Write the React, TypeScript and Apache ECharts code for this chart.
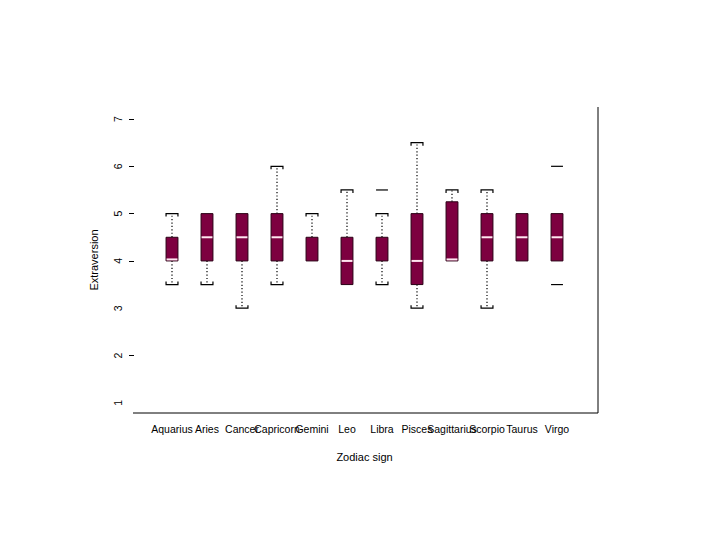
import React, { useEffect, useRef } from "react";
import * as echarts from "echarts";

const categories = ["Aquarius", "Aries", "Cancer", "Capricorn", "Gemini", "Leo", "Libra", "Pisces", "Sagittarius", "Scorpio", "Taurus", "Virgo"];
const lowerWhisker = [3.5, 3.5, 3.0, 3.5, 4.0, 3.5, 3.5, 3.0, 4.0, 3.0, 4.0, 4.0];
const q1 = [4.0, 4.0, 4.0, 4.0, 4.0, 3.5, 4.0, 3.5, 4.0, 4.0, 4.0, 4.0];
const medians = [4.0, 4.5, 4.5, 4.5, 4.5, 4.0, 4.5, 4.0, 4.0, 4.5, 4.5, 4.5];
const q3 = [4.5, 5.0, 5.0, 5.0, 4.5, 4.5, 4.5, 5.0, 5.25, 5.0, 5.0, 5.0];
const upperWhisker = [5.0, 5.0, 5.0, 6.0, 5.0, 5.5, 5.0, 6.5, 5.5, 5.5, 5.0, 5.0];
const outlierCats = ["Libra", "Virgo", "Virgo"];
const outlierValues = [5.5, 6.0, 3.5];
const yTickLabels = [1, 2, 3, 4, 5, 6, 7];
const yTickMarks = [2, 4, 5, 6, 7];

const FONT = "'Liberation Sans', Arial, Helvetica, sans-serif";
const BOX_FILL = "#7d0040";
const BOX_EDGE = "#2a0015";

export default function App() {
  const ref = useRef<HTMLDivElement>(null);
  useEffect(() => {
    if (!ref.current) return;
    const chart = echarts.init(ref.current, undefined, { renderer: "svg" });
    const boxData = categories.map((_, i) => [i, lowerWhisker[i], q1[i], medians[i], q3[i], upperWhisker[i]]);
    const outData = outlierCats.map((c, k) => [categories.indexOf(c), outlierValues[k]]);

    const renderBox = (params: any, api: any) => {
      const i = api.value(0);
      const lo = api.value(1), a = api.value(2), m = api.value(3), b = api.value(4), hi = api.value(5);
      const w = api.size([1, 0])[0] * 0.34;
      const [cx, yLo] = api.coord([i, lo]);
      const yA = api.coord([i, a])[1];
      const yM = api.coord([i, m])[1];
      const yB = api.coord([i, b])[1];
      const yHi = api.coord([i, hi])[1];
      const x0 = cx - w / 2, x1 = cx + w / 2;
      const children: any[] = [];
      const dot = { stroke: "#000", lineWidth: 1.2, lineDash: [1.2, 2.2] };
      const cap = { stroke: "#000", lineWidth: 1.2 };
      if (hi > b) {
        children.push({ type: "line", shape: { x1: cx, y1: yB, x2: cx, y2: yHi }, style: dot });
        children.push({ type: "polyline", shape: { points: [[x0, yHi + 3], [x0, yHi], [x1, yHi], [x1, yHi + 3]] }, style: { ...cap, fill: "none" } });
      }
      if (lo < a) {
        children.push({ type: "line", shape: { x1: cx, y1: yA, x2: cx, y2: yLo }, style: dot });
        children.push({ type: "polyline", shape: { points: [[x0, yLo - 3], [x0, yLo], [x1, yLo], [x1, yLo - 3]] }, style: { ...cap, fill: "none" } });
      }
      children.push({ type: "rect", shape: { x: x0, y: yB, width: w, height: yA - yB }, style: { fill: BOX_FILL, stroke: BOX_EDGE, lineWidth: 1 } });
      if (m < b) {
        const ym = m === a ? yM - 1.5 : yM;
        children.push({ type: "line", shape: { x1: x0 + 0.5, y1: ym, x2: x1 - 0.5, y2: ym }, style: { stroke: "#ffe6f0", lineWidth: 2 } });
      }
      return { type: "group", children };
    };

    const renderOut = (params: any, api: any) => {
      const i = api.value(0);
      const w = api.size([1, 0])[0] * 0.34;
      const [cx, y] = api.coord([i, api.value(1)]);
      return { type: "line", shape: { x1: cx - w / 2, y1: y, x2: cx + w / 2, y2: y }, style: { stroke: "#000", lineWidth: 1.2 } };
    };

    chart.setOption({
      animation: false,
      backgroundColor: "#ffffff",
      textStyle: { fontFamily: FONT },
      grid: { left: 154.5, top: 107, width: 420, height: 306 },
      xAxis: {
        type: "category",
        data: categories,
        axisLine: { show: false },
        axisTick: { show: false },
        splitLine: { show: false },
        axisLabel: { interval: 0, color: "#000", fontSize: 10.5, fontFamily: FONT, margin: 10 },
        name: "Zodiac sign",
        nameLocation: "middle",
        nameGap: 38,
        nameTextStyle: { color: "#000", fontSize: 11, fontFamily: FONT },
      },
      yAxis: {
        type: "value",
        min: 0.785,
        max: 7.254,
        offset: 20.5,
        axisLine: { show: false },
        splitLine: { show: false },
        axisTick: { show: true, length: 5, customValues: yTickMarks, lineStyle: { color: "#000" } },
        axisLabel: { customValues: yTickLabels, rotate: 90, color: "#000", fontSize: 10.5, fontFamily: FONT, margin: 11 },
        name: "Extraversion",
        nameLocation: "middle",
        nameGap: 35,
        nameTextStyle: { color: "#000", fontSize: 11, fontFamily: FONT },
      },
      graphic: [
        { type: "line", shape: { x1: 133, y1: 413, x2: 598, y2: 413 }, style: { stroke: "#000", lineWidth: 1 } },
        { type: "line", shape: { x1: 598, y1: 107, x2: 598, y2: 413 }, style: { stroke: "#000", lineWidth: 1 } },
      ],
      series: [
        { type: "custom", renderItem: renderBox, data: boxData, encode: { x: 0, y: [1, 2, 3, 4, 5] }, clip: false },
        { type: "custom", renderItem: renderOut, data: outData, encode: { x: 0, y: 1 }, clip: false },
      ],
    });
    return () => chart.dispose();
  }, []);
  return <div ref={ref} style={{ position: "fixed", left: 0, top: 0, width: 720, height: 540, background: "#fff" }} />;
}
